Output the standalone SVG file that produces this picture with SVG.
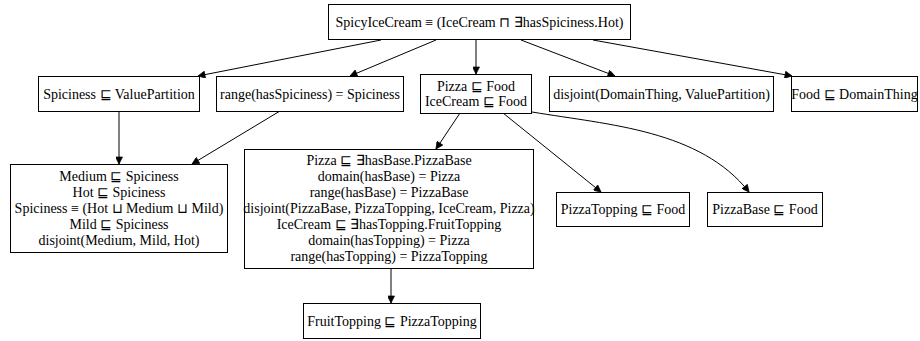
<svg xmlns="http://www.w3.org/2000/svg" width="920" height="341" viewBox="0 0 920 341">
<style>
  .n rect { fill: #fff; stroke: #000; stroke-width: 1; }
  #edges path { fill: none; stroke: #000; stroke-width: 1; marker-end: url(#arr); }
</style>
<defs>
  <marker id="arr" viewBox="0 0 10 10" refX="10" refY="5" markerWidth="10" markerHeight="7" markerUnits="userSpaceOnUse" orient="auto">
    <path d="M0,0 L10,5 L0,10 z" fill="#000" stroke="#000"/>
  </marker>
</defs>
<rect width="920" height="341" fill="#fff"/>
<g id="edges">
  <path d="M381,40 L198,76"/>
  <path d="M436,40 L350,76"/>
  <path d="M476,40 L476,74"/>
  <path d="M521,40 L615,76"/>
  <path d="M593,40 L792,76"/>
  <path d="M119,111 L119,164"/>
  <path d="M280,111 L192,164"/>
  <path d="M460,113 L436,149"/>
  <path d="M503,113 L601,192"/>
  <path d="M532,112 C610,125 700,130 749,192"/>
  <path d="M391,268 L391,303"/>
</g>
<g id="n_top" class="n"><rect x="328.5" y="4.5" width="302" height="35"/><text font-family="Liberation Serif" font-size="14" text-anchor="middle" x="479.5" y="27">SpicyIceCream ≡ (IceCream ⊓ ∃hasSpiciness.Hot)</text></g>
<g id="n_spic" class="n"><rect x="38.5" y="76.5" width="161" height="35"/><text font-family="Liberation Serif" font-size="14" text-anchor="middle" x="119" y="98.5">Spiciness ⊑ ValuePartition</text></g>
<g id="n_range" class="n"><rect x="216.5" y="76.5" width="187" height="35"/><text font-family="Liberation Serif" font-size="14" text-anchor="middle" x="310" y="98.5">range(hasSpiciness) = Spiciness</text></g>
<g id="n_food" class="n"><rect x="420.5" y="74.5" width="111" height="39"/><text font-family="Liberation Serif" font-size="14" text-anchor="middle" x="476" y="90.5">Pizza ⊑ Food</text><text font-family="Liberation Serif" font-size="14" text-anchor="middle" x="476" y="106">IceCream ⊑ Food</text></g>
<g id="n_disj" class="n"><rect x="549.5" y="76.5" width="224" height="35"/><text font-family="Liberation Serif" font-size="14" text-anchor="middle" x="661.5" y="98.5">disjoint(DomainThing, ValuePartition)</text></g>
<g id="n_dom" class="n"><rect x="791.5" y="76.5" width="126" height="35"/><text font-family="Liberation Serif" font-size="14" text-anchor="middle" x="854.5" y="98.5">Food ⊑ DomainThing</text></g>
<g id="n_med" class="n"><rect x="10.5" y="164.5" width="217" height="88"/>
  <text font-family="Liberation Serif" font-size="14" text-anchor="middle" x="119" y="181">Medium ⊑ Spiciness</text>
  <text font-family="Liberation Serif" font-size="14" text-anchor="middle" x="119" y="197">Hot ⊑ Spiciness</text>
  <text font-family="Liberation Serif" font-size="14" text-anchor="middle" x="119" y="213">Spiciness ≡ (Hot ⊔ Medium ⊔ Mild)</text>
  <text font-family="Liberation Serif" font-size="14" text-anchor="middle" x="119" y="229">Mild ⊑ Spiciness</text>
  <text font-family="Liberation Serif" font-size="14" text-anchor="middle" x="119" y="245">disjoint(Medium, Mild, Hot)</text>
</g>
<g id="n_pizza" class="n"><rect x="244.5" y="149.5" width="289" height="119"/>
  <text font-family="Liberation Serif" font-size="14" text-anchor="middle" x="389" y="165">Pizza ⊑ ∃hasBase.PizzaBase</text>
  <text font-family="Liberation Serif" font-size="14" text-anchor="middle" x="389" y="181">domain(hasBase) = Pizza</text>
  <text font-family="Liberation Serif" font-size="14" text-anchor="middle" x="389" y="197">range(hasBase) = PizzaBase</text>
  <text font-family="Liberation Serif" font-size="14" text-anchor="middle" x="389" y="213">disjoint(PizzaBase, PizzaTopping, IceCream, Pizza)</text>
  <text font-family="Liberation Serif" font-size="14" text-anchor="middle" x="389" y="229">IceCream ⊑ ∃hasTopping.FruitTopping</text>
  <text font-family="Liberation Serif" font-size="14" text-anchor="middle" x="389" y="245">domain(hasTopping) = Pizza</text>
  <text font-family="Liberation Serif" font-size="14" text-anchor="middle" x="389" y="261">range(hasTopping) = PizzaTopping</text>
</g>
<g id="n_ptop" class="n"><rect x="556.5" y="192.5" width="133" height="34"/><text font-family="Liberation Serif" font-size="14" text-anchor="middle" x="623" y="214">PizzaTopping ⊑ Food</text></g>
<g id="n_pbase" class="n"><rect x="707.5" y="192.5" width="115" height="34"/><text font-family="Liberation Serif" font-size="14" text-anchor="middle" x="765" y="214">PizzaBase ⊑ Food</text></g>
<g id="n_fruit" class="n"><rect x="303.5" y="303.5" width="177" height="35"/><text font-family="Liberation Serif" font-size="14" text-anchor="middle" x="392" y="325.5">FruitTopping ⊑ PizzaTopping</text></g>
</svg>
